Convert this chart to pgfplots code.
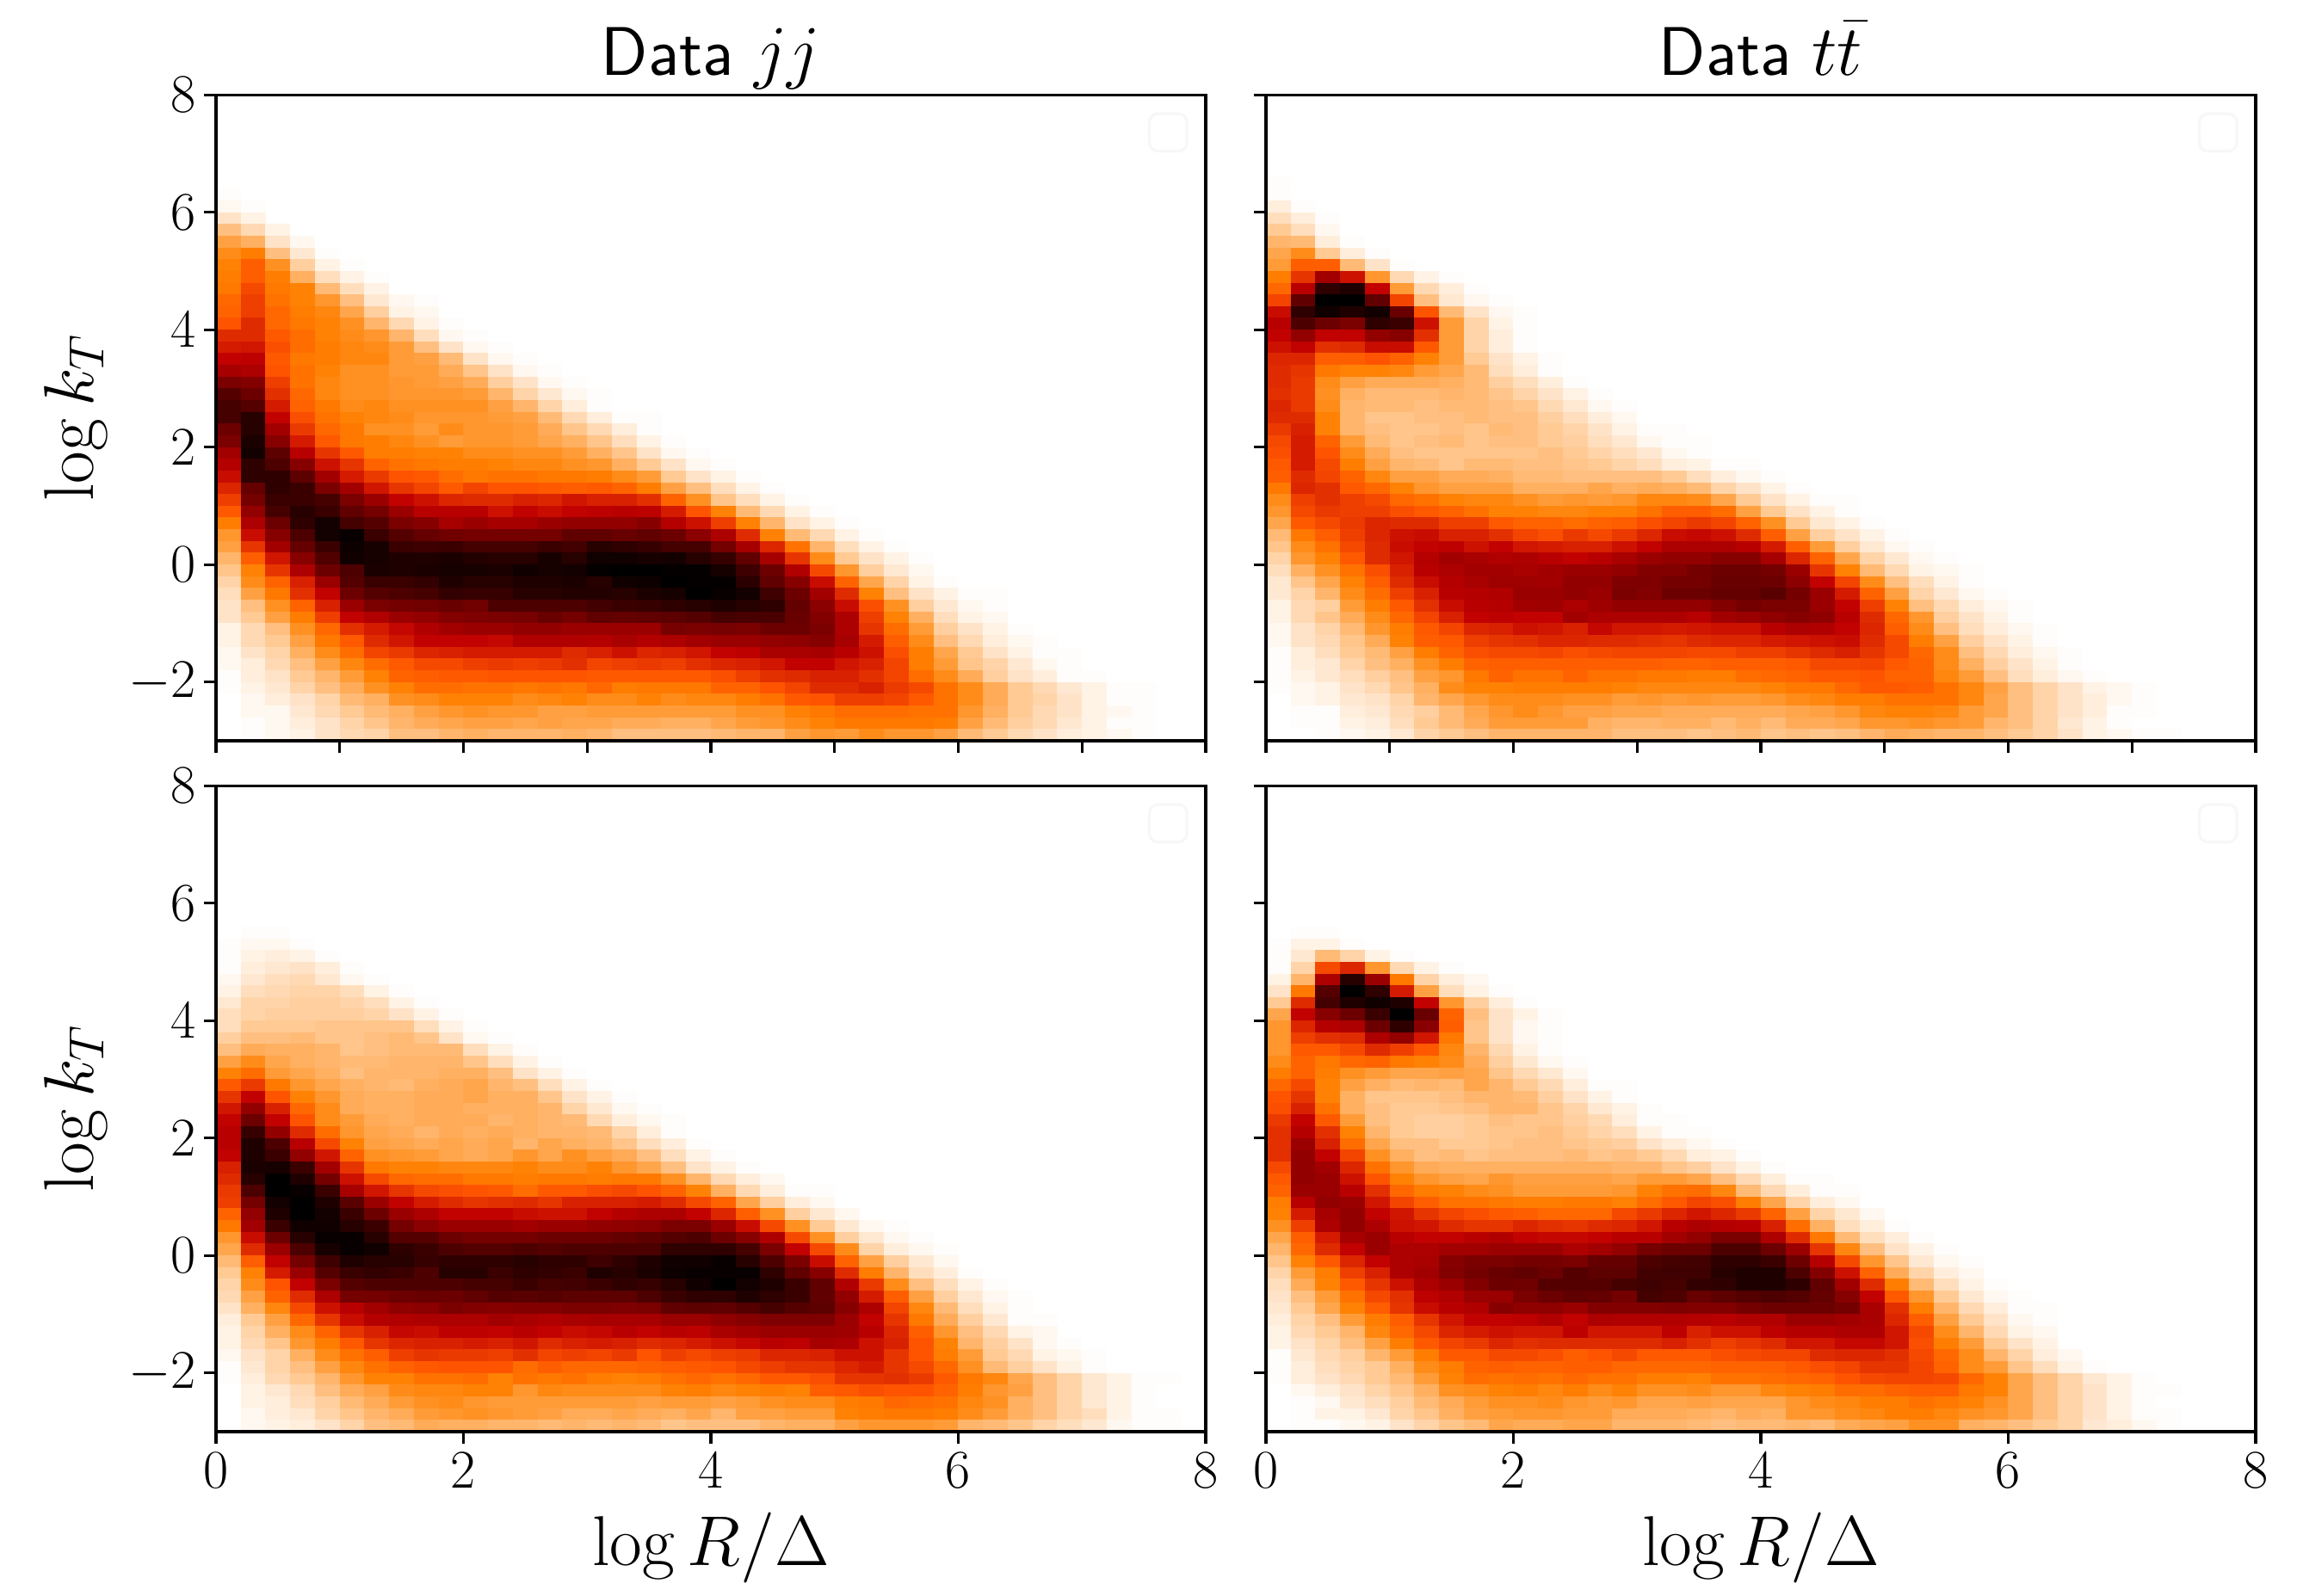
\RequirePackage{fix-cm}
\documentclass[border=0pt]{standalone}
\usepackage{pgfplots}
\pgfplotsset{compat=1.18}

% histogram cell, 0.2 x 0.2 in axis units
\pgfdeclareplotmark{cell}{%
  \pgfpathrectangle{\pgfpoint{-4.37pt}{-2.1pt}}{\pgfpoint{8.74pt}{4.2pt}}\pgfusepathqfill}

% one row of bins: y centre, then levels of the columns from x=0.1 on
\newcommand{\cells}[2]{%
  \gdef\cc{}%
  \foreach \v [count=\i from 0] in {#2} {%
    \pgfmathsetmacro\xx{0.1+0.2*\i}%
    \xdef\cc{\cc (\xx,#1) [\v]}%
  }%
  \edef\tmp{\noexpand\addplot[scatter,only marks,mark=cell,point meta=explicit] coordinates {\cc};}\tmp
}

\newcommand{\dataA}{%
\cells{6.3}{1}
\cells{6.1}{2,1}
\cells{5.9}{6,3}
\cells{5.7}{13,8,3}
\cells{5.5}{19,16,6,2}
\cells{5.3}{23,26,13,5,1}
\cells{5.1}{25,32,22,10,3,1}
\cells{4.9}{26,32,26,16,7,3,1}
\cells{4.7}{27,36,27,25,14,7,3}
\cells{4.5}{30,38,28,25,21,13,5,2,1}
\cells{4.3}{31,38,30,26,24,18,10,3,2}
\cells{4.1}{34,42,30,27,25,22,15,8,3,1}
\cells{3.9}{42,42,33,29,25,23,21,15,7,2,1}
\cells{3.7}{45,46,35,29,26,24,23,20,13,6,2,1}
\cells{3.5}{50,51,33,27,26,24,24,20,19,14,6,2,1}
\cells{3.3}{57,55,34,28,25,22,22,20,20,17,12,6,2,1}
\cells{3.1}{68,66,38,28,24,22,22,21,20,19,17,10,6,2,1}
\cells{2.9}{78,72,41,30,24,22,22,21,21,21,20,15,9,5,2,1}
\cells{2.7}{82,78,45,31,27,23,24,22,22,22,22,19,15,9,4,1}
\cells{2.5}{82,90,50,35,28,25,24,23,21,21,21,20,19,14,8,4,1,1}
\cells{2.3}{72,90,58,39,30,27,22,22,20,23,21,21,20,17,12,8,4,1}
\cells{2.1}{68,93,65,45,33,27,26,24,22,20,21,21,20,18,16,12,7,3,1}
\cells{1.9}{58,95,76,52,40,33,26,26,25,25,23,23,22,22,20,16,12,6,2,1}
\cells{1.7}{53,88,80,65,47,40,31,28,27,26,26,25,24,24,22,21,16,11,6,2,1}
\cells{1.5}{48,88,88,76,58,45,39,34,33,29,27,28,28,27,27,26,23,20,11,6,3,1}
\cells{1.3}{43,74,88,85,68,58,46,40,37,33,37,34,34,33,32,33,31,26,19,13,7,3,1}
\cells{1.1}{38,70,85,85,82,68,60,50,47,43,42,42,44,43,46,44,44,41,31,22,12,7,3,1}
\cells{0.9}{33,62,82,90,85,75,70,60,52,52,52,47,50,48,50,51,52,51,45,34,25,14,8,3,1}
\cells{0.7}{26,55,72,88,95,82,78,68,65,57,60,57,57,60,62,62,62,65,53,47,38,25,15,6,3,1}
\cells{0.5}{21,48,65,80,95,98,85,78,74,71,70,70,70,70,75,75,73,75,72,64,55,42,25,14,8,3,1}
\cells{0.3}{19,40,58,74,85,97,94,85,84,85,82,82,82,85,83,90,88,86,82,82,70,57,43,28,15,7,3,1}
\cells{0.1}{15,32,46,65,79,96,94,92,92,93,91,90,90,94,90,96,96,94,95,90,86,75,57,40,23,11,6,3,1}
\cells{-0.1}{12,25,40,55,72,80,93,92,93,94,94,93,96,94,95,99,100,100,99,99,94,84,72,54,36,21,10,5,2}
\cells{-0.3}{9,23,31,44,60,78,85,85,87,92,90,90,92,92,93,90,96,97,100,99,99,89,75,65,48,31,18,9,3,1}
\cells{-0.5}{7,19,27,41,50,72,78,80,82,87,86,86,90,90,91,91,90,93,94,100,98,95,84,72,58,42,25,13,6,3,1,1}
\cells{-0.7}{6,13,22,31,44,60,68,70,71,73,71,80,80,80,80,83,85,86,88,90,92,90,88,74,64,48,35,22,10,5,2,1}
\cells{-0.9}{6,11,19,26,38,50,54,60,62,66,67,68,69,73,70,75,74,75,76,78,82,81,81,73,66,55,38,25,16,7,3,2}
\cells{-1.1}{3,8,13,22,30,41,45,49,54,58,60,60,62,62,60,60,60,60,69,68,69,68,72,72,68,55,40,29,20,10,6,3,1}
\cells{-1.3}{3,8,11,19,27,33,42,46,50,50,50,49,54,54,54,53,56,53,55,58,60,60,62,63,65,57,45,32,23,13,8,4,2,1}
\cells{-1.5}{2,6,9,16,23,29,37,39,43,44,45,45,45,45,42,44,47,43,44,46,50,51,56,56,57,52,47,35,26,18,11,6,3,1,1}
\cells{-1.7}{2,4,8,13,19,24,29,33,36,36,38,39,38,39,41,37,38,39,38,41,43,44,46,50,50,46,44,37,26,20,12,9,5,2,1}
\cells{-1.9}{1,4,6,11,15,20,25,31,32,33,33,34,34,34,34,33,33,33,33,33,35,38,41,42,44,44,41,37,29,23,17,10,6,4,1,1}
\cells{-2.1}{1,3,5,9,13,17,22,25,29,29,28,28,27,28,27,30,26,27,27,27,31,31,34,37,42,42,44,39,36,28,23,17,11,8,5,3,1,1}
\cells{-2.3}{0,2,4,6,9,14,16,22,23,25,25,25,23,24,25,23,23,25,23,24,24,26,28,33,34,38,38,37,33,28,23,17,11,9,6,3,1,1}
\cells{-2.5}{0,2,2,5,8,11,14,16,19,21,22,21,21,19,19,20,20,20,20,20,20,22,22,25,27,29,29,29,28,28,21,16,11,8,6,3,2,1}
\cells{-2.7}{0,1,2,4,6,9,12,15,17,18,19,19,18,19,18,18,17,17,16,16,18,20,21,23,25,27,27,27,27,26,19,14,10,8,5,3,1,1}
\cells{-2.9}{0,1,2,3,6,8,9,13,13,15,16,15,15,15,16,15,13,13,13,13,14,15,15,19,21,20,23,21,21,19,14,11,8,6,4,3,2,1}
}

\newcommand{\dataB}{%
\cells{6.5}{1}
\cells{6.3}{1}
\cells{6.1}{4,1}
\cells{5.9}{7,4,1}
\cells{5.7}{11,7,2}
\cells{5.5}{15,14,4,1}
\cells{5.3}{18,23,11,4,1}
\cells{5.1}{20,32,32,14,6,1}
\cells{4.9}{26,40,58,47,21,8,3,1}
\cells{4.7}{30,52,88,92,50,20,8,4,1}
\cells{4.5}{37,75,100,100,75,37,13,5,2,1}
\cells{4.3}{48,88,96,92,95,73,34,14,6,2,1}
\cells{4.1}{52,80,72,68,88,85,47,20,9,3,1}
\cells{3.9}{50,62,50,50,62,65,41,20,9,4,1}
\cells{3.7}{47,50,41,42,48,48,33,20,9,4,1}
\cells{3.5}{43,43,32,32,34,31,25,20,11,6,3,1}
\cells{3.3}{42,40,27,25,25,24,20,18,14,7,4,1}
\cells{3.1}{42,39,23,19,17,17,17,16,14,10,7,4,1}
\cells{2.9}{41,39,22,16,14,14,14,15,14,12,9,6,3,1}
\cells{2.7}{43,39,23,15,14,14,13,14,14,13,12,8,5,2,1}
\cells{2.5}{42,42,25,15,12,12,13,13,14,13,13,10,7,4,2}
\cells{2.3}{39,44,25,15,13,12,12,13,12,14,13,11,9,6,3,1,1}
\cells{2.1}{36,45,31,20,14,12,13,14,12,13,13,11,10,7,5,2,1,1}
\cells{1.9}{35,45,34,23,17,13,12,12,12,12,12,13,11,9,7,5,2,1}
\cells{1.7}{33,45,36,26,19,15,14,12,14,14,13,13,12,11,9,7,4,3,1,1}
\cells{1.5}{32,42,37,31,24,19,19,17,17,16,14,14,13,13,13,13,11,7,4,2,1}
\cells{1.3}{27,43,41,33,30,25,21,19,19,19,16,16,16,18,16,17,16,14,9,6,3,1}
\cells{1.1}{23,38,41,38,36,30,28,25,24,24,22,20,21,20,21,24,24,23,18,11,6,3,1,1}
\cells{0.9}{21,36,39,38,38,35,33,31,28,25,25,24,24,25,25,28,32,32,29,19,11,6,3,1}
\cells{0.7}{18,33,36,39,43,42,42,38,38,33,31,31,29,31,32,35,37,39,37,31,22,11,5,3,1}
\cells{0.5}{14,27,32,38,43,47,48,44,44,41,37,35,39,36,39,43,48,49,47,42,32,19,10,6,3,1}
\cells{0.3}{12,23,28,36,42,48,50,51,47,50,46,45,44,44,47,50,55,55,55,52,45,32,20,10,5,2,1}
\cells{0.1}{9,21,25,33,42,46,53,58,56,54,55,52,50,52,56,60,62,62,65,65,57,43,31,18,9,5,2,1}
\cells{-0.1}{7,16,22,28,35,44,52,55,58,58,56,58,60,60,62,66,66,70,72,72,70,60,40,25,14,8,3,2,1}
\cells{-0.3}{5,12,18,25,32,42,48,53,56,59,59,58,62,62,67,67,70,70,73,73,72,64,50,37,23,13,7,3,1}
\cells{-0.5}{5,9,15,23,29,38,44,52,53,54,60,60,62,60,68,66,72,72,74,74,77,70,60,45,31,19,9,5,2,1}
\cells{-0.7}{3,8,10,20,26,33,41,48,52,53,58,59,55,59,62,62,62,62,66,70,68,68,60,50,38,25,13,8,4,2,1}
\cells{-0.9}{3,8,12,17,23,30,37,44,50,51,50,50,58,55,55,55,55,52,58,60,63,65,63,52,42,30,21,10,6,3,1}
\cells{-1.1}{2,6,9,14,21,26,33,37,43,44,47,46,44,49,46,46,45,46,47,47,52,55,54,50,43,32,23,13,7,4,2,1}
\cells{-1.3}{2,6,8,12,17,25,32,33,38,40,41,43,43,42,42,41,40,42,43,43,45,46,47,48,42,36,26,19,10,6,3,1}
\cells{-1.5}{1,4,7,11,14,19,26,31,35,36,36,37,35,36,37,37,37,36,36,38,38,40,42,44,40,36,30,23,13,8,4,2,1}
\cells{-1.7}{1,4,5,9,13,16,22,26,31,32,32,32,32,32,32,32,31,31,32,32,32,33,36,36,37,33,31,23,16,10,6,3,1}
\cells{-1.9}{1,3,5,7,10,13,19,21,27,31,28,28,31,28,28,27,27,26,26,29,30,31,33,33,34,31,31,24,20,13,7,4,2,1}
\cells{-2.1}{1,2,3,6,8,12,16,23,25,25,26,26,26,26,25,24,24,24,24,24,25,27,27,30,33,33,32,28,24,19,13,9,6,3,2,1}
\cells{-2.3}{0,2,3,5,6,9,15,18,21,23,23,23,22,22,20,21,20,21,20,20,21,23,24,26,26,28,28,28,24,18,13,9,6,4,2,1}
\cells{-2.5}{0,1,1,4,5,8,10,14,18,21,23,21,19,19,18,18,17,17,17,17,17,18,19,21,24,25,25,24,20,18,13,9,6,4,1,1}
\cells{-2.7}{0,1,1,3,4,7,11,14,17,20,20,20,20,16,15,15,16,16,14,16,14,17,17,18,21,21,22,21,20,15,13,9,5,3,1}
\cells{-2.9}{0,0,1,2,3,5,9,11,13,15,15,15,15,15,13,13,13,12,13,14,12,13,12,13,15,17,16,15,15,13,11,9,6,3,2,1,1}
}

\newcommand{\dataC}{%
\cells{5.5}{0,1,1}
\cells{5.3}{1,2,2,1}
\cells{5.1}{1,3,4,3,1}
\cells{4.9}{1,4,5,6,4,1}
\cells{4.7}{2,5,7,8,5,2,1}
\cells{4.5}{3,7,8,9,9,7,3,1}
\cells{4.3}{5,9,9,10,10,9,7,3,1}
\cells{4.1}{7,9,10,10,10,10,9,6,3,1}
\cells{3.9}{7,11,11,11,12,12,12,12,7,3,1}
\cells{3.7}{10,13,13,14,12,12,13,14,12,6,2,1}
\cells{3.5}{13,17,16,16,15,12,13,14,14,14,7,3,1}
\cells{3.3}{19,23,18,16,15,14,14,15,15,15,12,7,3,1}
\cells{3.1}{25,29,20,18,16,13,15,15,15,16,16,13,6,3,1}
\cells{2.9}{33,39,27,21,18,16,15,14,16,17,18,15,13,7,3,1}
\cells{2.7}{40,50,34,25,21,17,16,16,17,17,18,16,16,12,6,3,1}
\cells{2.5}{46,62,44,30,23,17,16,16,17,17,16,16,16,15,9,5,2,1}
\cells{2.3}{50,72,50,34,23,20,17,16,17,17,17,15,16,15,14,8,4,2,1}
\cells{2.1}{52,86,62,42,29,21,18,17,15,17,16,17,16,15,15,14,9,4,1}
\cells{1.9}{52,92,80,52,36,25,19,18,17,18,17,18,15,18,16,15,12,7,4,1}
\cells{1.7}{50,92,85,62,46,31,22,21,20,18,17,18,21,18,22,19,17,13,7,3,1}
\cells{1.5}{44,93,94,85,58,40,27,25,25,24,24,24,25,23,23,25,21,18,13,6,3,1}
\cells{1.3}{42,90,100,92,70,47,36,30,29,29,27,27,26,27,27,26,27,27,22,15,8,4,2}
\cells{1.1}{39,80,100,98,85,57,46,40,36,35,34,33,29,33,33,35,36,34,31,25,16,8,4,1,1}
\cells{0.9}{38,70,95,100,92,77,60,50,45,42,40,41,42,40,44,44,44,45,42,36,31,18,10,4,2}
\cells{0.7}{31,62,92,100,95,85,72,60,55,50,50,50,48,47,47,50,53,55,55,50,43,32,22,10,5,2}
\cells{0.5}{27,58,85,96,96,90,85,70,64,60,60,60,58,60,60,62,63,64,68,68,60,48,36,22,11,5,2,1}
\cells{0.3}{21,48,72,90,98,98,90,78,78,72,70,70,70,72,72,72,74,76,78,80,72,65,55,36,22,10,5,2,1}
\cells{0.1}{18,42,60,80,94,98,96,88,85,80,78,78,80,78,80,80,80,80,88,88,88,82,68,50,36,23,9,4,2,1}
\cells{-0.1}{14,32,50,70,84,92,90,90,86,88,88,88,90,88,88,84,88,92,96,96,98,90,80,68,48,31,19,10,5,2}
\cells{-0.3}{11,25,45,60,78,85,87,85,80,90,90,85,88,87,85,92,90,93,97,98,98,98,88,75,65,42,26,15,7,4,1}
\cells{-0.5}{9,23,34,50,68,78,80,80,80,80,82,82,85,82,83,85,88,86,90,96,100,95,92,85,75,54,39,23,13,7,3,1}
\cells{-0.7}{8,19,31,42,55,70,70,72,73,72,75,78,77,78,76,76,76,80,85,88,88,92,88,85,75,62,45,32,19,10,5,2,1}
\cells{-0.9}{6,16,24,36,47,52,58,63,64,68,66,65,66,66,68,68,67,68,75,76,75,78,82,78,76,65,55,37,24,14,7,3,1}
\cells{-1.1}{4,11,19,30,40,48,53,54,55,55,55,58,56,54,56,57,57,57,60,60,63,65,67,67,67,60,50,40,27,17,10,5,1,1}
\cells{-1.3}{3,9,16,23,31,40,44,49,48,51,51,50,52,50,48,49,52,50,52,51,56,58,60,60,60,59,52,43,32,21,13,8,3,2}
\cells{-1.5}{3,8,12,21,26,33,40,43,44,44,45,44,46,42,44,45,44,42,43,45,47,49,52,51,57,55,47,44,34,25,15,10,6,2,1}
\cells{-1.7}{2,6,9,16,23,28,32,38,40,39,39,38,41,37,38,37,39,34,38,36,38,39,43,43,44,47,47,40,34,26,20,11,8,3,2,1}
\cells{-1.9}{1,5,9,13,19,24,28,31,33,34,34,34,29,32,30,30,30,31,32,33,34,36,38,40,40,43,45,40,36,30,22,14,10,6,3,1}
\cells{-2.1}{1,4,8,11,15,21,25,25,28,28,29,25,28,27,28,26,25,26,28,30,28,30,33,33,35,40,40,41,39,33,27,24,18,13,9,5,3,1,1}
\cells{-2.3}{0,3,5,8,13,17,19,23,24,24,25,25,21,24,23,23,23,23,25,26,24,25,26,25,32,33,35,34,34,31,26,21,19,13,9,5,3,1}
\cells{-2.5}{0,3,4,7,10,14,17,20,22,23,21,20,20,20,20,20,20,19,20,20,19,20,22,23,23,26,27,30,29,28,24,22,16,13,9,5,3,1}
\cells{-2.7}{0,2,4,5,9,12,15,17,20,21,22,21,20,19,17,17,18,17,16,18,15,19,19,20,20,25,26,27,27,26,23,20,16,13,9,7,3,1,1}
\cells{-2.9}{0,2,3,4,6,9,13,14,17,16,16,15,15,14,15,14,15,14,12,13,13,13,15,16,16,19,21,21,21,20,15,14,12,9,7,5,2,1,1}
}

\newcommand{\dataD}{%
\cells{5.5}{0,1,1}
\cells{5.3}{1,3,3,1}
\cells{5.1}{1,5,14,9,3,1}
\cells{4.9}{1,9,36,43,21,8,3,1}
\cells{4.7}{3,15,55,90,60,27,9,4,2}
\cells{4.5}{6,27,78,100,88,45,19,7,3,1}
\cells{4.3}{11,42,82,92,96,92,50,21,10,4,1}
\cells{4.1}{18,50,65,72,85,100,73,31,13,6,3,1}
\cells{3.9}{21,43,53,55,72,88,64,32,12,6,2,1}
\cells{3.7}{21,38,41,42,55,62,46,27,12,6,2,1}
\cells{3.5}{21,33,33,36,42,38,33,24,15,8,3,1}
\cells{3.3}{23,31,27,30,31,27,25,23,17,10,5,2,1}
\cells{3.1}{26,31,26,22,20,18,18,19,18,12,8,5,2}
\cells{2.9}{30,36,25,19,16,14,15,14,18,15,11,8,4,1,1}
\cells{2.7}{34,40,25,16,12,12,12,13,15,15,14,10,6,3,1}
\cells{2.5}{35,44,28,16,13,11,11,12,13,15,15,12,9,5,3,1}
\cells{2.3}{39,50,33,20,13,11,10,10,11,13,12,12,10,8,4,1,1}
\cells{2.1}{41,53,41,25,15,11,10,10,11,12,12,13,11,9,7,3,1,1}
\cells{1.9}{41,60,44,29,18,13,13,11,11,12,13,13,12,11,10,6,4,2,1}
\cells{1.7}{41,62,50,37,22,16,13,14,12,13,13,13,14,12,13,11,8,4,3,1}
\cells{1.5}{36,62,58,43,28,21,17,16,16,16,16,16,16,16,15,15,12,10,6,3,1}
\cells{1.3}{33,62,60,47,34,25,21,19,18,21,19,19,19,19,18,20,20,18,13,8,4,1,1}
\cells{1.1}{31,60,60,52,41,30,26,25,23,22,20,20,20,20,21,25,28,29,24,14,8,4,1,1}
\cells{0.9}{26,52,62,60,46,37,32,28,28,27,26,26,27,27,25,29,33,37,35,26,18,9,4,2}
\cells{0.7}{25,45,57,62,50,46,40,37,35,33,32,30,30,30,36,39,43,46,43,39,31,19,9,5,2}
\cells{0.5}{22,38,55,62,55,47,46,42,40,40,43,41,40,42,43,46,52,55,53,52,44,29,16,7,4,1}
\cells{0.3}{18,32,45,57,60,52,50,50,52,54,50,49,49,50,52,52,58,62,68,68,55,42,27,14,7,4,1}
\cells{0.1}{15,30,42,50,60,55,55,58,58,60,60,60,55,58,62,70,72,72,80,80,72,60,40,24,13,6,3,1}
\cells{-0.1}{12,25,33,43,50,55,56,65,68,68,70,70,68,74,74,80,82,83,88,88,85,72,53,36,21,12,5,2,1}
\cells{-0.3}{9,20,26,38,44,55,58,66,70,73,75,72,78,76,76,83,84,84,90,92,92,80,66,47,31,17,9,4,2}
\cells{-0.5}{7,17,25,33,40,47,55,60,66,72,71,78,78,78,82,84,82,87,88,92,92,88,75,58,42,26,14,7,3,1}
\cells{-0.7}{6,13,20,28,36,41,51,54,60,60,68,72,75,74,70,82,80,73,76,78,80,78,74,65,50,33,21,11,5,2,1}
\cells{-0.9}{5,11,18,25,32,40,48,52,54,65,63,63,60,66,66,66,67,66,66,70,72,72,72,70,56,41,26,15,8,4,1,1}
\cells{-1.1}{4,9,13,20,26,32,40,46,50,50,51,54,50,55,54,54,54,53,52,54,54,60,60,58,56,43,32,19,11,6,2,1}
\cells{-1.3}{3,8,11,15,24,30,36,43,45,47,46,46,51,46,46,46,51,44,47,47,51,53,53,55,55,46,36,23,15,8,3,2}
\cells{-1.5}{3,6,9,13,19,26,33,37,39,43,41,42,42,42,42,42,44,41,38,40,42,46,46,49,49,46,35,26,20,11,6,3}
\cells{-1.7}{1,5,8,10,15,20,26,33,33,36,36,35,32,34,36,33,33,33,35,36,37,37,42,43,43,41,36,30,23,15,9,4,2}
\cells{-1.9}{1,4,7,9,11,16,23,26,31,32,31,31,32,32,30,30,30,30,31,31,31,33,35,37,40,40,37,31,23,20,12,7,3,1}
\cells{-2.1}{1,4,6,8,11,14,20,25,29,28,29,28,30,28,28,26,26,25,28,28,29,30,31,34,36,37,37,36,30,25,18,13,9,5,3,1}
\cells{-2.3}{0,2,4,6,9,12,16,22,23,25,26,24,26,23,25,22,22,23,21,21,24,25,26,29,29,31,32,32,27,25,18,13,9,6,3,1,1}
\cells{-2.5}{0,1,2,5,7,10,14,17,20,22,22,23,21,20,21,18,18,19,18,18,18,21,23,24,26,26,28,27,25,22,18,13,9,6,3,1}
\cells{-2.7}{0,1,3,3,5,9,12,16,19,20,21,21,20,20,17,17,17,16,15,17,16,21,21,23,24,26,26,24,22,21,18,13,9,6,3,1,1}
\cells{-2.9}{0,1,1,2,3,6,9,12,14,18,17,17,18,18,15,15,15,14,13,14,14,15,14,17,18,19,22,22,16,15,13,11,9,5,4,2,1}
}

\pgfplotsset{
  hist/.style={
    scale only axis, width=345pt, height=225.2pt,
    anchor=south west,
    xmin=0, xmax=8, ymin=-3, ymax=8,
    clip mode=individual,
    axis line style={line width=1pt},
    tick style={black, line width=1pt},
    tick align=outside, tick pos=left,
    major tick length=4.2pt,
    ytick={-2,0,2,4,6,8},
    tick label style={font=\fontsize{19}{22}\selectfont},
    yticklabel style={inner sep=2.5pt},
    xticklabel style={inner sep=3pt},
    title style={font=\fontsize{24}{28}\selectfont, at={(axis description cs:0.5,1.031)}, anchor=base, yshift=-6pt},
    xlabel style={font=\fontsize{24.6}{28}\selectfont, at={(axis description cs:0.5,-0.2078)}, anchor=base},
    ylabel style={font=\fontsize{24.6}{28}\selectfont, at={(axis description cs:-0.124,0.5)}, anchor=base},
    colormap={gistheatr}{rgb=(1,1,1) rgb=(1,0.833,0.667) rgb=(1,0.667,0.333) rgb=(1,0.5,0)
      rgb=(1,0.333,0) rgb=(0.875,0.167,0) rgb=(0.75,0,0) rgb=(0.625,0,0) rgb=(0.5,0,0)
      rgb=(0.375,0,0) rgb=(0.25,0,0) rgb=(0.125,0,0) rgb=(0,0,0)},
    point meta min=0.6, point meta max=100,
  },
  toprow/.style={xtick={0,1,...,8}, xticklabels={}},
  botrow/.style={xtick={0,2,...,8}, xlabel={$\log R/\Delta$}},
  leftcol/.style={ylabel={$\log k_T$}},
  rightcol/.style={yticklabels={}},
}
% the frame over the cells, and the empty legend box in the upper right corner
\newcommand{\framebits}{%
  \draw[black!3, line width=1pt, rounded corners=3pt]
    (rel axis cs:0.943,0.913) rectangle (rel axis cs:0.981,0.971);
  \draw[black, line width=1pt] (rel axis cs:0,0) rectangle (rel axis cs:1,1);}
\newcommand{\ttl}[1]{\textsf{Data} {\fontsize{24.88}{28}\selectfont #1}}

\begin{document}
\begin{tikzpicture}
\useasboundingbox (0,0) rectangle (800.7pt,556.5pt);
\begin{axis}[hist, toprow, leftcol, at={(75.3pt,298.2pt)}, title={\ttl{$jj$}}]
\dataA
\framebits
\end{axis}
\begin{axis}[hist, toprow, rightcol, at={(441.3pt,298.2pt)}, title={\ttl{$t\bar{t}$}}]
\dataB
\framebits
\end{axis}
\begin{axis}[hist, botrow, leftcol, at={(75.3pt,57.3pt)}]
\dataC
\framebits
\end{axis}
\begin{axis}[hist, botrow, rightcol, at={(441.3pt,57.3pt)}]
\dataD
\framebits
\end{axis}
\end{tikzpicture}
\end{document}
